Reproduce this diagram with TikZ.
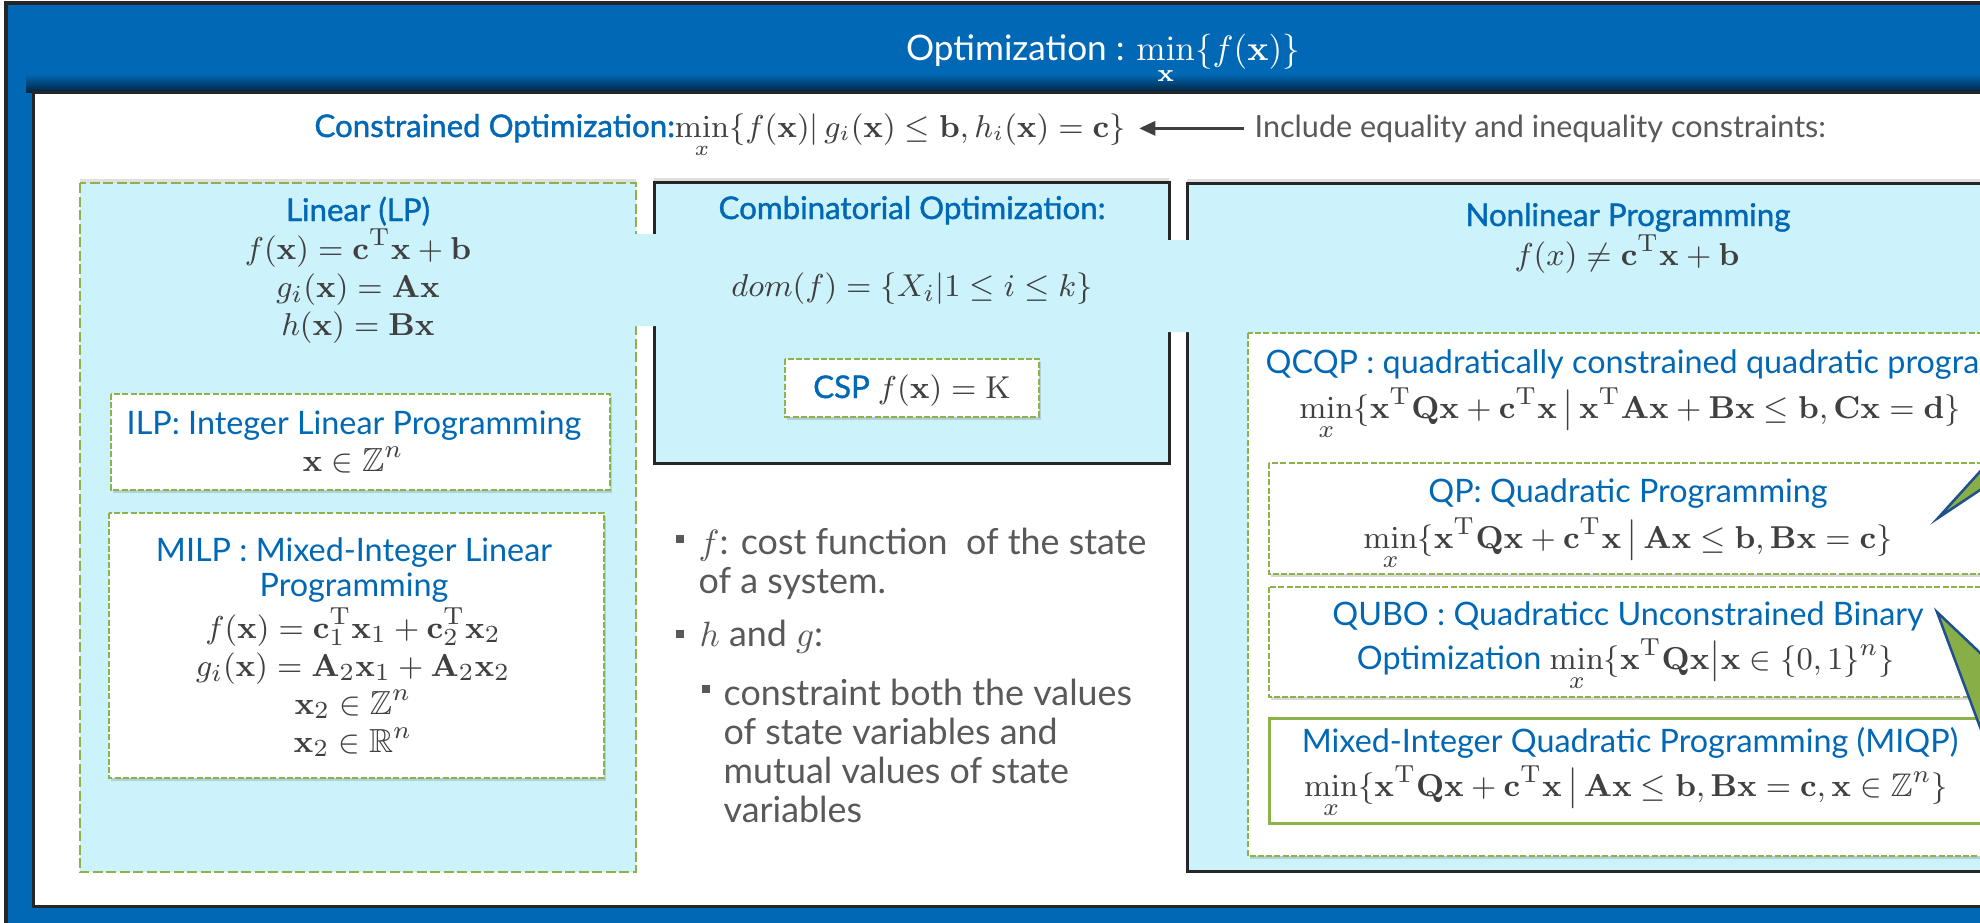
\documentclass[tikz,border=0pt]{standalone}
\usepackage{amsmath}
\usepackage{amssymb}
\usepackage[no-math]{fontspec}
\newfontfamily\labelfont{Lato}
\newfontfamily\headfont{Lato}[FakeBold=1.2]
\usetikzlibrary{matrix,positioning,shadows,arrows.meta}
\definecolor{slideblue}{HTML}{0068B5}
\definecolor{headblue}{HTML}{0068B5}
\definecolor{panelcyan}{HTML}{CCF2FC}
\definecolor{dashgreen}{HTML}{8DB24B}
\definecolor{framegray}{HTML}{262626}
\definecolor{mathgray}{HTML}{404040}
\definecolor{textgray}{HTML}{595959}
\definecolor{wedgegreen}{HTML}{88AE47}
\definecolor{wedgeblue}{HTML}{1F4F8C}
\newcommand{\bx}{\mathbf{x}}
\newcommand{\trsp}{^{\mathrm{T}}}

\begin{document}
\begin{tikzpicture}[x=0.1mm,y=-0.1mm,
    titletxt/.style={font=\labelfont\fontsize{10}{12}\selectfont,text=white,inner sep=0pt},
    headtxt/.style={font=\headfont\fontsize{8.9}{11}\selectfont,text=headblue,inner sep=0pt},
    subhead/.style={font=\labelfont\fontsize{9.2}{10.2}\selectfont,text=headblue,inner sep=0pt,align=center},
    mathtxt/.style={font=\fontsize{9.5}{11}\selectfont,text=mathgray,inner sep=0pt},
    nlmath/.style={mathtxt,font=\fontsize{9.3}{11}\selectfont},
    formulas/.style={matrix of math nodes,row sep=0.4mm,
      nodes={mathtxt,text height=2.4mm,text depth=1mm}},
    bodytxt/.style={font=\labelfont\fontsize{10.2}{11.1}\selectfont,text=textgray,align=left,inner sep=0pt},
    notetxt/.style={font=\labelfont\fontsize{8.7}{11}\selectfont,text=textgray,inner sep=0pt},
    bulletsq/.style={fill=textgray,inner sep=0pt,minimum size=0.8mm},
    lpbox/.style={draw=dashgreen,fill=panelcyan,line width=0.28mm,dash pattern=on 1mm off 0.35mm,
      drop shadow={shadow xshift=0pt,shadow yshift=1pt,opacity=.25}},
    framebox/.style={draw=framegray,fill=panelcyan,line width=0.3mm,
      drop shadow={shadow xshift=0pt,shadow yshift=1pt,opacity=.25}},
    dashbox/.style={draw=dashgreen,fill=white,line width=0.2mm,dash pattern=on 0.6mm off 0.22mm,
      drop shadow={shadow xshift=0.6pt,shadow yshift=-0.8pt,opacity=.3}},
    solidbox/.style={draw=dashgreen,fill=white,line width=0.3mm},
    bridge/.style={fill=panelcyan,rounded corners=1.2mm},
    wedge/.style={fill=wedgegreen,draw=wedgeblue,line width=0.25mm},
    flowarrow/.style={-{Triangle[length=1.6mm,width=1.4mm]},line width=0.3mm,draw=mathgray,fill=mathgray}]

  \useasboundingbox (0,0) rectangle (1980,922);
  \clip (0,0) rectangle (1980,922);

  % slide frame
  \fill[white] (0,0) rectangle (1980,922);
  \draw[fill=slideblue,draw=framegray,line width=0.4mm] (6,3) rectangle (2100,1000);
  \shade[top color=slideblue,bottom color=black!65!slideblue] (26,74) rectangle (2100,92);
  \draw[fill=white,draw=framegray,line width=0.3mm] (33,92) rectangle (2100,906);

  \node [titletxt,anchor=base] (title) at (1103,60)
        {Optimization : $\min\limits_{\bx}\{f(\bx)\}$};

  \node [headtxt,anchor=base] (constr) at (720,137)
        {Constrained Optimization:\textcolor{mathgray}{$\min\limits_{x}\{f(\bx)|\,
          g_i(\bx)\le\mathbf{b},h_i(\bx)=\mathbf{c}\}$}};
  \node [notetxt,anchor=base west] (incl) at (1254,137)
        {Include equality and inequality constraints:};
  \draw[flowarrow,shorten <=1mm,shorten >=1.3mm] (incl.west) -- (incl.west -| constr.east);

  % linear programming
  \draw[lpbox] (80,183) rectangle (636,872);
  \node [headtxt,anchor=base] (lptitle) at (358,221) {Linear (LP)};
  \matrix (lpform) [formulas] at (358,290)
          {
            f(\bx)=\mathbf{c}\trsp\bx+\mathbf{b} \\
            g_i(\bx)=\mathbf{A}\bx \\
            h(\bx)=\mathbf{B}\bx \\
          };

  \draw[dashbox] (111,394) rectangle (610,490);
  \node [subhead,anchor=base] (ilptitle) at (354,434) {ILP: Integer Linear Programming};
  \node [mathtxt,anchor=base] (ilpform) at (353,471) {$\bx\in\mathbb{Z}^n$};

  \draw[dashbox] (109,513) rectangle (604,778);
  \node [subhead] (miltitle) at (354,570) {MILP : Mixed-Integer Linear\\Programming};
  \matrix (milform) [formulas] at (353,688)
          {
            f(\bx)=\mathbf{c}_1\trsp\bx_1+\mathbf{c}_2\trsp\bx_2 \\
            g_i(\bx)=\mathbf{A}_2\bx_1+\mathbf{A}_2\bx_2 \\
            \bx_2\in\mathbb{Z}^n \\
            \bx_2\in\mathbb{R}^n \\
          };

  % combinatorial optimization
  \draw[framebox] (654,182) rectangle (1169,463);
  \node [headtxt,anchor=base] (cotitle) at (912,219) {Combinatorial Optimization:};
  \node [mathtxt,anchor=base] (codom) at (912,296) {$dom(f)=\{X_i|1\le i\le k\}$};
  \draw[dashbox] (785,359) rectangle (1039,417);
  \node [headtxt,anchor=base] (csp) at (912,398)
        {CSP \textcolor{mathgray}{$f(\bx)=\mathrm{K}$}};

  \node [bulletsq] (b1) at (680,539) {};
  \node [bodytxt,anchor=west] (t1) at (698,564) {$f$: cost function\ \ of the state\\of a system.};
  \node [bulletsq] (b2) at (680,634) {};
  \node [bodytxt,anchor=west] (t2) at (699,637) {$h$ and $g$:};
  \node [bulletsq] (b3) at (706,689) {};
  \node [bodytxt,anchor=west] (t3) at (723,751)
        {constraint both the values\\of state variables and\\mutual values of state\\variables};

  % nonlinear programming
  \draw[framebox] (1187,183) rectangle (2080,871);
  \node [headtxt,anchor=base] (nltitle) at (1628,226) {Nonlinear Programming};
  \node [mathtxt,anchor=base] (nlform) at (1627,265) {$f(x)\neq\mathbf{c}\trsp\bx+\mathbf{b}$};

  \draw[dashbox] (1248,333) rectangle (2060,856);
  \node [subhead,anchor=base west] (qcqptitle) at (1265,373)
        {QCQP : quadratically constrained quadratic programming};
  \node [nlmath,anchor=base] (qcqpform) at (1630,418)
        {$\min\limits_{x}\{\bx\trsp\mathbf{Q}\bx+\mathbf{c}\trsp\bx\,\big|\,
          \bx\trsp\mathbf{A}\bx+\mathbf{B}\bx\le\mathbf{b},\mathbf{C}\bx=\mathbf{d}\}$};

  \draw[dashbox] (1269,463) rectangle (2040,574);
  \node [subhead,anchor=base] (qptitle) at (1628,502) {QP: Quadratic Programming};
  \node [nlmath,anchor=base] (qpform) at (1628,548)
        {$\min\limits_{x}\{\bx\trsp\mathbf{Q}\bx+\mathbf{c}\trsp\bx\,\big|\,
          \mathbf{A}\bx\le\mathbf{b},\mathbf{B}\bx=\mathbf{c}\}$};

  \draw[dashbox] (1269,587) rectangle (2040,697);
  \node [subhead,anchor=base] (qubotitle) at (1628,625) {QUBO : Quadraticc Unconstrained Binary};
  \node [subhead,anchor=base] (quboform) at (1626,669)
        {Optimization \textcolor{mathgray}{\fontsize{9.3}{11}\selectfont
          $\min\limits_{x}\{\bx\trsp\mathbf{Q}\bx\big|\bx\in\{0,1\}^n\}$}};

  \draw[solidbox] (1269,718) rectangle (2040,823);
  \node [subhead,anchor=base] (miqptitle) at (1630,752) {Mixed-Integer Quadratic Programming (MIQP)};
  \node [nlmath,anchor=base] (miqpform) at (1626,796)
        {$\min\limits_{x}\{\bx\trsp\mathbf{Q}\bx+\mathbf{c}\trsp\bx\,\big|\,
          \mathbf{A}\bx\le\mathbf{b},\mathbf{B}\bx=\mathbf{c},\bx\in\mathbb{Z}^n\}$};

  % cyan bridges between the panels
  \fill[bridge] (622,234) rectangle (668,326);
  \fill[bridge] (1155,240) rectangle (1201,332);

  % callout pointers from the right
  \filldraw[wedge] (1938,518) -- (1995,455) -- (1995,480) -- cycle;
  \filldraw[wedge] (1937,612) -- (1995,667) -- (1995,767) -- cycle;

\end{tikzpicture}
\end{document}
